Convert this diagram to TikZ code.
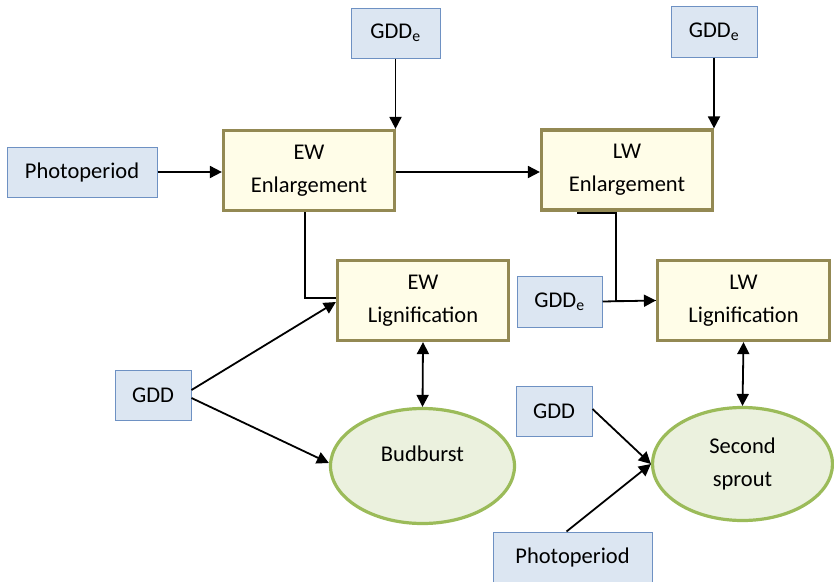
\documentclass[tikz,border=0pt]{standalone}
\usepackage{fontspec}
\setmainfont{Carlito}
\usetikzlibrary{arrows.meta,shapes.geometric}

\definecolor{inputfill}{RGB}{220,230,242}
\definecolor{inputline}{RGB}{110,145,195}
\definecolor{stagefill}{RGB}{255,253,232}
\definecolor{stageline}{RGB}{147,137,83}
\definecolor{eventfill}{RGB}{235,241,222}
\definecolor{eventline}{RGB}{155,187,89}

\begin{document}
\begin{tikzpicture}[x=1pt,y=-1pt,
        every node/.style={font=\fontsize{22.5}{33}\selectfont, align=center, inner sep=0pt},
        input/.style={draw=inputline, fill=inputfill, line width=1pt},
        stage/.style={draw=stageline, fill=stagefill, line width=3.2pt, minimum width=171pt, minimum height=80pt},
        event/.style={ellipse, draw=eventline, fill=eventfill, line width=3.2pt},
        link/.style={line width=1.8pt, -{Triangle[length=12pt,width=12pt]}},
        twoway/.style={line width=1.8pt, {Triangle[length=12pt,width=12pt]}-{Triangle[length=12pt,width=12pt]}}]
            \useasboundingbox (0,0) rectangle (834,581);

            \node[input, minimum width=89pt, minimum height=50pt] (gddA) at (395.5,33) {GDD\textsubscript{e}};
            \node[input, minimum width=86pt, minimum height=51pt] (gddB) at (714,31.5) {GDD\textsubscript{e}};
            \node[input, minimum width=150pt, minimum height=50pt] (photoA) at (82,172) {Photoperiod};
            \node[input, minimum width=76pt, minimum height=50pt] (gddC) at (153,395) {GDD};
            \node[input, minimum width=85pt, minimum height=51pt] (gddD) at (559.5,301.5) {GDD\textsubscript{e}};
            \node[input, minimum width=76pt, minimum height=50pt] (gddE) at (554,411) {GDD};
            \node[input, minimum width=159pt, minimum height=50pt] (photoB) at (572.5,557) {Photoperiod};

            \node[stage] (ewe) at (309,170.5) {EW\\Enlargement};
            \node[stage] (lwe) at (627,170) {LW\\Enlargement};
            \node[stage] (ewl) at (423,300.5) {EW\\Lignification};
            \node[stage, minimum width=172pt] (lwl) at (743.5,300.5) {LW\\Lignification};

            \node[event, minimum width=184pt, minimum height=115pt] (bud) at (422.5,466) {\raisebox{5pt}[0pt][0pt]{Budburst}};
            \node[event, minimum width=180pt, minimum height=113pt] (sec) at (742.5,464) {Second\\sprout};

            \draw[link] (gddA.south) -- (gddA.south |- ewe.north);
            \draw[link] (gddB.south) -- (gddB.south |- lwe.north);
            \draw[link] (photoA.east) -- (photoA.east -| ewe.west);
            \draw[link] ([yshift=-1.5pt]ewe.east) -- ([yshift=-1.5pt]ewe.east -| lwe.west);
            \draw[line width=1.6pt] ([xshift=-4pt]ewe.south) |- ([yshift=2.5pt]ewl.west);
            \draw[line width=1.6pt] ([xshift=-50pt,yshift=-1.5pt]lwe.south) -- ([xshift=-11pt,yshift=-1.5pt]lwe.south) |- (lwl.west);
            \draw[link] (gddD.east) -- (lwl.west);
            \draw[link] ([yshift=5pt]gddC.east) -- ([yshift=-1.5pt]ewl.west);
            \draw[link] ([yshift=-3pt]gddC.east) -- ([yshift=3pt]bud.west);
            \draw[twoway] (ewl.south) -- (bud.north);
            \draw[twoway] (lwl.south) -- (sec.north);
            \draw[link] ([yshift=2pt]gddE.east) -- (sec.west);
            \draw[link] ([xshift=-6pt]photoB.north) -- (sec.west);
        \end{tikzpicture}
\end{document}
